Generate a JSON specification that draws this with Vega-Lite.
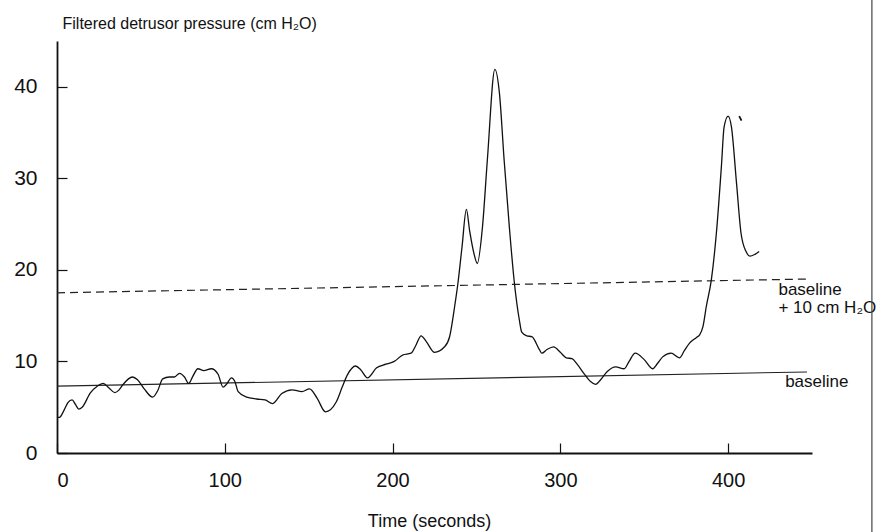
{
  "$schema": "https://vega.github.io/schema/vega-lite/v6.json",
  "width": 755,
  "height": 412,
  "autosize": {"type": "none"},
  "padding": {"left": 57, "top": 41, "right": 76, "bottom": 79},
  "background": "white",
  "config": {
    "view": {"stroke": null},
    "font": "Liberation Sans",
    "axis": {
      "grid": false,
      "domainColor": "#111",
      "domainWidth": 1.8,
      "tickColor": "#111",
      "tickWidth": 1.2,
      "tickSize": -10,
      "labelColor": "#111",
      "titleColor": "#111",
      "labelFont": "Liberation Sans",
      "titleFont": "Liberation Sans",
      "titleFontWeight": "normal"
    }
  },
  "datasets": {
    "curve": [
      {"t":0,"p":3.9},{"t":1.5,"p":3.9},{"t":4,"p":4.6},{"t":6.5,"p":5.5},{"t":9,"p":5.8},{"t":11,"p":5.3},{"t":13,"p":4.8},{"t":15,"p":5.0},
      {"t":20,"p":6.6},{"t":24,"p":7.3},{"t":27.5,"p":7.6},{"t":31,"p":7.1},{"t":34.5,"p":6.6},{"t":37,"p":6.9},{"t":39,"p":7.4},{"t":45,"p":8.3},
      {"t":48,"p":8.0},{"t":52,"p":7.0},{"t":57,"p":6.1},{"t":60,"p":6.8},{"t":63,"p":8.1},{"t":67,"p":8.3},{"t":70,"p":8.3},{"t":73,"p":8.7},
      {"t":76,"p":8.3},{"t":78.5,"p":7.6},{"t":81,"p":8.4},{"t":84,"p":9.2},{"t":87.5,"p":9.0},{"t":92,"p":9.2},{"t":96,"p":8.6},{"t":99,"p":7.2},
      {"t":101,"p":7.5},{"t":104,"p":8.2},{"t":106,"p":7.8},{"t":108,"p":6.7},{"t":113,"p":6.1},{"t":119,"p":5.9},{"t":124,"p":5.8},{"t":128.5,"p":5.4},
      {"t":134,"p":6.5},{"t":140,"p":6.9},{"t":146,"p":6.7},{"t":150.5,"p":7.0},{"t":155,"p":6.0},{"t":160,"p":4.5},{"t":166.5,"p":5.6},{"t":170,"p":7.2},
      {"t":173,"p":8.5},{"t":178,"p":9.5},{"t":181,"p":9.1},{"t":185,"p":8.2},{"t":190.5,"p":9.3},{"t":196,"p":9.7},{"t":201,"p":10.0},{"t":206,"p":10.7},
      {"t":211,"p":10.9},{"t":214,"p":11.8},{"t":217,"p":12.8},{"t":220,"p":12.2},{"t":225,"p":11.0},{"t":231,"p":11.6},{"t":234,"p":12.7},{"t":237,"p":16.0},
      {"t":239,"p":18.6},{"t":241.4,"p":22.5},{"t":244,"p":26.6},{"t":246,"p":24.2},{"t":248.5,"p":21.8},{"t":250.5,"p":20.7},{"t":253.6,"p":24.7},{"t":256.5,"p":32},
      {"t":261,"p":41.9},{"t":263.7,"p":39.3},{"t":266.5,"p":32},{"t":269.6,"p":24.7},{"t":272.6,"p":18.6},{"t":275.6,"p":14.5},{"t":277,"p":13.2},{"t":280,"p":12.8},
      {"t":283,"p":12.7},{"t":287.5,"p":11.3},{"t":289,"p":10.9},{"t":292,"p":11.3},{"t":296,"p":11.6},{"t":300,"p":11.0},{"t":303.5,"p":10.4},{"t":307,"p":10.3},
      {"t":310,"p":9.7},{"t":314,"p":8.7},{"t":318,"p":7.8},{"t":321,"p":7.5},{"t":324,"p":8.0},{"t":328,"p":8.9},{"t":333,"p":9.4},{"t":338,"p":9.2},
      {"t":341,"p":10.0},{"t":344.6,"p":10.9},{"t":350,"p":10.2},{"t":355,"p":9.2},{"t":358,"p":9.8},{"t":361,"p":10.5},{"t":366,"p":10.9},{"t":371,"p":10.4},
      {"t":374,"p":11.2},{"t":377,"p":12.0},{"t":381,"p":12.6},{"t":383,"p":12.9},{"t":385,"p":13.8},{"t":387,"p":16.0},{"t":390,"p":18.9},{"t":393,"p":24},
      {"t":396,"p":31.3},{"t":397.6,"p":35.6},{"t":400,"p":36.8},{"t":402,"p":35.6},{"t":405,"p":29.5},{"t":407.7,"p":24},{"t":410.7,"p":22.0},{"t":413,"p":21.5},
      {"t":416,"p":21.7},{"t":418.5,"p":22.0}
    ],
    "fragment": [{"t":406.6,"p":36.8},{"t":408,"p":36.3}],
    "baseline": [{"t":0,"p":7.3},{"t":447,"p":8.85}],
    "baseline10": [{"t":0,"p":17.5},{"t":447,"p":19.0}],
    "labels": [
      {"t":434,"p":7.76,"label":"baseline"},
      {"t":430,"p":17.8,"label":"baseline"},
      {"t":430,"p":15.85,"label":"+ 10 cm H₂O"}
    ],
    "border": [{"t":485.7,"p":-8.7,"p2":49.5}]
  },
  "layer": [
    {
      "data": {"name": "baseline"},
      "mark": {"type": "line", "color": "#222", "strokeWidth": 1.1},
      "encoding": {
        "x": {"field": "t", "type": "quantitative", "scale": {"domain": [0, 450], "nice": false},
              "axis": {"values": [0,100,200,300,400], "labelFontSize": 20, "labelPadding": 27, "title": "Time (seconds)", "titleFontSize": 18, "titleX": 372, "titleY": 73, "titleBaseline": "alphabetic", "domainCap": "butt"}},
        "y": {"field": "p", "type": "quantitative", "scale": {"domain": [0, 45], "nice": false},
              "axis": {"values": [0,10,20,30,40], "labelFontSize": 21, "labelPadding": 30, "title": "Filtered detrusor pressure (cm H₂O)", "titleFontSize": 16, "titleAngle": 0, "titleAlign": "left", "titleBaseline": "alphabetic", "titleX": 5, "titleY": -13}}
      }
    },
    {
      "data": {"name": "baseline10"},
      "mark": {"type": "line", "color": "#222", "strokeWidth": 1.2, "strokeDash": [8, 5]},
      "encoding": {
        "x": {"field": "t", "type": "quantitative"},
        "y": {"field": "p", "type": "quantitative"}
      }
    },
    {
      "data": {"name": "curve"},
      "mark": {"type": "line", "color": "#111", "strokeWidth": 1.3, "interpolate": "monotone"},
      "encoding": {
        "x": {"field": "t", "type": "quantitative"},
        "y": {"field": "p", "type": "quantitative"}
      }
    },
    {
      "data": {"name": "fragment"},
      "mark": {"type": "line", "color": "#111", "strokeWidth": 1.8},
      "encoding": {
        "x": {"field": "t", "type": "quantitative"},
        "y": {"field": "p", "type": "quantitative"}
      }
    },
    {
      "data": {"name": "labels"},
      "mark": {"type": "text", "align": "left", "baseline": "middle", "fontSize": 17, "color": "#111", "font": "Liberation Sans"},
      "encoding": {
        "x": {"field": "t", "type": "quantitative"},
        "y": {"field": "p", "type": "quantitative"},
        "text": {"field": "label"}
      }
    },
    {
      "data": {"name": "border"},
      "mark": {"type": "rule", "color": "#444", "strokeWidth": 1.2, "clip": false},
      "encoding": {
        "x": {"field": "t", "type": "quantitative"},
        "y": {"field": "p", "type": "quantitative"},
        "y2": {"field": "p2"}
      }
    }
  ]
}
